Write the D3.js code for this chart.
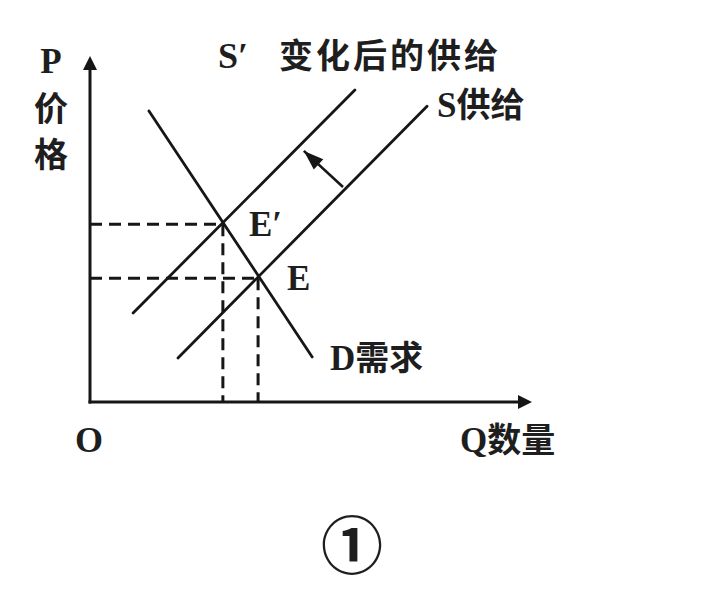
<!DOCTYPE html>
<html><head><meta charset="utf-8">
<script src="https://cdn.jsdelivr.net/npm/d3@7"></script>
<style>
html,body{margin:0;padding:0;background:#fff;}
svg{display:block;}
</style></head>
<body>
<script>
// ---- data (quantity Q / price P in chart units 0..100) ----
const demandLine = [{q:13.4,p:84.6},{q:50.5,p:13.1}];
const supplyLine = [{q:20.0,p:12.8},{q:76.6,p:86.0}];
const supplyShifted = [{q:9.8,p:25.9},{q:60.2,p:90.7}];
const equilibria = [{name:"E′",q:30.2,p:51.7},{name:"E",q:38.2,p:36.0}];
const shiftArrow = [{q:57.5,p:62.5},{q:48.6,p:73.0}];
const lineLabels = ["D需求","S供给","S′ 变化后的供给"];
const axisLabels = ["P","价","格","Q数量","O"];
const figureLabel = "①";

const W=726,H=590;
const x = d3.scaleLinear().domain([0,100]).range([90,530]);
const y = d3.scaleLinear().domain([0,100]).range([402,58]);

const svg = d3.select("body").append("svg").attr("width",W).attr("height",H);
const ink="#161616";
const serif="'Liberation Serif','DejaVu Serif',serif";
const cjk="'Noto Sans CJK SC','Noto Sans CJK JP',sans-serif";

// axes
const x0=x(0), y0=y(0);
svg.append("line").attr("x1",x0).attr("y1",y0+1.5).attr("x2",x0).attr("y2",y(100)+8)
  .attr("stroke",ink).attr("stroke-width",3);
svg.append("line").attr("x1",x0-1.5).attr("y1",y0).attr("x2",x(100)-8).attr("y2",y0)
  .attr("stroke",ink).attr("stroke-width",3);
svg.append("path").attr("d",`M${x0},${y(100)-2}L${x0-7},${y(100)+12}L${x0+7},${y(100)+12}Z`).attr("fill",ink);
svg.append("path").attr("d",`M${x(100)+2},${y0}L${x(100)-12},${y0-7}L${x(100)-12},${y0+7}Z`).attr("fill",ink);

// dashed guides
equilibria.forEach(e=>{
  svg.append("line").attr("x1",x0).attr("y1",y(e.p)).attr("x2",x(e.q)).attr("y2",y(e.p))
    .attr("stroke",ink).attr("stroke-width",3).attr("stroke-dasharray","12,7");
  svg.append("line").attr("x1",x(e.q)).attr("y1",y(e.p)).attr("x2",x(e.q)).attr("y2",y0)
    .attr("stroke",ink).attr("stroke-width",3).attr("stroke-dasharray","12,7");
});

// curves
const line=d3.line().x(d=>x(d.q)).y(d=>y(d.p));
[demandLine,supplyLine,supplyShifted].forEach(ln=>{
  svg.append("path").attr("d",line(ln)).attr("fill","none").attr("stroke",ink)
    .attr("stroke-width",2.8).attr("stroke-linecap","round");
});

// shift arrow
svg.append("line").attr("x1",x(shiftArrow[0].q)).attr("y1",y(shiftArrow[0].p))
  .attr("x2",x(shiftArrow[1].q)).attr("y2",y(shiftArrow[1].p))
  .attr("stroke",ink).attr("stroke-width",2.6);
{
  const a=x(shiftArrow[1].q), b=y(shiftArrow[1].p);
  const ang=Math.atan2(b-y(shiftArrow[0].p), a-x(shiftArrow[0].q));
  const L=20, Wd=7;
  const bx=a-L*Math.cos(ang), by=b-L*Math.sin(ang);
  const px=-Math.sin(ang)*Wd, py=Math.cos(ang)*Wd;
  svg.append("path").attr("d",`M${a},${b}L${bx+px},${by+py}L${bx-px},${by-py}Z`).attr("fill",ink);
}

// text helper
function txt(s,xx,yy,opts={}){
  return svg.append("text").attr("x",xx).attr("y",yy).text(s)
    .attr("font-family",opts.f||serif).attr("font-size",opts.s||35)
    .attr("font-weight",opts.w||"bold").attr("fill","#1e1e1e")
    .attr("text-anchor",opts.a||"start").attr("dominant-baseline",opts.b||"alphabetic");
}
// axis labels
txt(axisLabels[0],51,73,{a:"middle"});
txt(axisLabels[1],51,106,{f:cjk,s:34,a:"middle",b:"central",w:"bold"});
txt(axisLabels[2],51,152,{f:cjk,s:34,a:"middle",b:"central",w:"bold"});
{
  const t=svg.append("text").attr("x",460).attr("y",452).attr("fill","#1e1e1e");
  t.append("tspan").text("Q").attr("font-family",serif).attr("font-size",35).attr("font-weight","bold");
  t.append("tspan").text(axisLabels[3].slice(1)).attr("font-family",cjk).attr("font-size",34).attr("font-weight","bold");
}
txt(axisLabels[4],75,452,{s:36});

// equilibrium labels
txt(equilibria[0].name,x(equilibria[0].q)+26,y(equilibria[0].p)+12);
txt(equilibria[1].name,x(equilibria[1].q)+29,y(equilibria[1].p)+12);

// line labels
function mixed(s,xx,yy,latin){
  const t=svg.append("text").attr("x",xx).attr("y",yy).attr("fill","#1e1e1e");
  t.append("tspan").text(s.slice(0,latin)).attr("font-family",serif).attr("font-size",35).attr("font-weight","bold");
  t.append("tspan").text(s.slice(latin)).attr("font-family",cjk).attr("font-size",34).attr("font-weight","bold");
  return t;
}
mixed(lineLabels[0],330,370,1);
mixed(lineLabels[1],437,117,1);
{
  const s=lineLabels[2];
  const t=svg.append("text").attr("x",218).attr("y",68).attr("fill","#1e1e1e");
  t.append("tspan").text(s.slice(0,2)).attr("font-family",serif).attr("font-size",36).attr("font-weight","bold");
  t.append("tspan").attr("x",279).text(s.slice(3)).attr("font-family",cjk).attr("font-size",34)
    .attr("font-weight","bold").attr("letter-spacing",3);
}

// figure number
txt(figureLabel,352,542,{f:cjk,s:62,a:"middle",b:"central",w:"bold"});
</script>
</body></html>
